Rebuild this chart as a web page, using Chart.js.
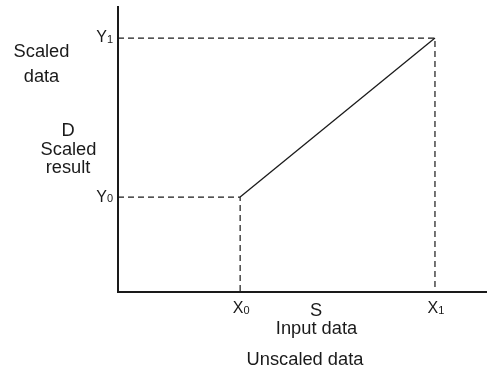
<!DOCTYPE html>
<html>
<head>
<meta charset="utf-8">
<script src="https://cdn.jsdelivr.net/npm/chart.js@4/dist/chart.umd.min.js"></script>
<style>
  html, body { margin: 0; padding: 0; background: #fff; }
  #wrap { position: relative; width: 487px; height: 370px; }
</style>
</head>
<body>
<div id="wrap"><canvas id="c"></canvas></div>
<script>
// ---- data ----
const xKeyValues = [33.1, 85.9];      // X0, X1 on the input (unscaled) axis
const yKeyValues = [33.3, 89.1];      // Y0, Y1 on the scaled axis
const xKeyLabels = ['X', 'X'];
const xKeySubs = ['0', '1'];
const yKeyLabels = ['Y', 'Y'];
const yKeySubs = ['0', '1'];
const xAxisLines = ['S', 'Input data'];
const xAxisTitle = 'Unscaled data';
const yAxisTitle = ['Scaled', 'data'];
const yAxisLines = ['D', 'Scaled', 'result'];
const axisMax = 100;

const INK = '#1a1a1a';
const FONT = '"Liberation Sans", Arial, sans-serif';
const TXT = '18.3px ' + FONT;

const scalingLine = [
  { x: xKeyValues[0], y: yKeyValues[0] },
  { x: xKeyValues[1], y: yKeyValues[1] }
];
const guide0 = [
  { x: 0, y: yKeyValues[0] },
  { x: xKeyValues[0], y: yKeyValues[0] },
  { x: xKeyValues[0], y: 0 }
];
const guide1 = [
  { x: 0, y: yKeyValues[1] },
  { x: xKeyValues[1], y: yKeyValues[1] },
  { x: xKeyValues[1], y: 0 }
];

function subText(ctx, base, sub, x, y, align) {
  ctx.font = '16px ' + FONT;
  const wb = ctx.measureText(base).width;
  ctx.font = '11px ' + FONT;
  const ws = ctx.measureText(sub).width;
  const total = wb + ws;
  let left = x;
  if (align === 'right') left = x - total;
  else if (align === 'center') left = x - total / 2;
  ctx.textAlign = 'left';
  ctx.textBaseline = 'middle';
  ctx.font = '16px ' + FONT;
  ctx.fillText(base, left, y);
  ctx.font = '11px ' + FONT;
  ctx.fillText(sub, left + wb, y + 2);
}

const labelPlugin = {
  id: 'labels',
  afterDraw(chart) {
    const ctx = chart.ctx;
    const xs = chart.scales.x, ys = chart.scales.y;
    ctx.save();
    ctx.fillStyle = INK;
    for (let i = 0; i < yKeyValues.length; i++) {
      subText(ctx, yKeyLabels[i], yKeySubs[i], xs.left - 5, ys.getPixelForValue(yKeyValues[i]), 'right');
    }
    for (let i = 0; i < xKeyValues.length; i++) {
      subText(ctx, xKeyLabels[i], xKeySubs[i], xs.getPixelForValue(xKeyValues[i]) + 1, ys.bottom + 17, 'center');
    }
    ctx.font = TXT;
    ctx.textAlign = 'center';
    ctx.textBaseline = 'middle';
    ctx.fillText(xAxisLines[0], 316, 311);
    ctx.fillText(xAxisLines[1], 316.5, 329);
    ctx.fillText(xAxisTitle, 305, 360);
    ctx.fillText(yAxisTitle[0], 41.5, 52);
    ctx.fillText(yAxisTitle[1], 41.5, 77);
    ctx.fillText(yAxisLines[0], 68, 131);
    ctx.fillText(yAxisLines[1], 68.5, 150);
    ctx.fillText(yAxisLines[2], 68, 168);
    ctx.restore();
  }
};

const dashStyle = {
  borderColor: INK, borderWidth: 1.2, borderDash: [6, 4],
  pointRadius: 0, fill: false, showLine: true, tension: 0
};

new Chart(document.getElementById('c'), {
  type: 'scatter',
  data: {
    datasets: [
      Object.assign({ data: guide0 }, dashStyle),
      Object.assign({ data: guide1 }, dashStyle),
      { data: scalingLine, borderColor: INK, borderWidth: 1.3, pointRadius: 0, showLine: true, fill: false }
    ]
  },
  options: {
    responsive: true,
    maintainAspectRatio: false,
    animation: false,
    devicePixelRatio: 1,
    layout: { padding: { left: 118, top: 7, right: 0, bottom: 78 } },
    plugins: { legend: { display: false }, tooltip: { enabled: false } },
    scales: {
      x: {
        type: 'linear', min: 0, max: axisMax,
        grid: { display: false, drawTicks: false },
        border: { display: true, color: INK, width: 2 },
        ticks: { display: false }
      },
      y: {
        type: 'linear', min: 0, max: axisMax,
        grid: { display: false, drawTicks: false },
        border: { display: true, color: INK, width: 2 },
        ticks: { display: false }
      }
    }
  },
  plugins: [labelPlugin]
});
</script>
</body>
</html>
